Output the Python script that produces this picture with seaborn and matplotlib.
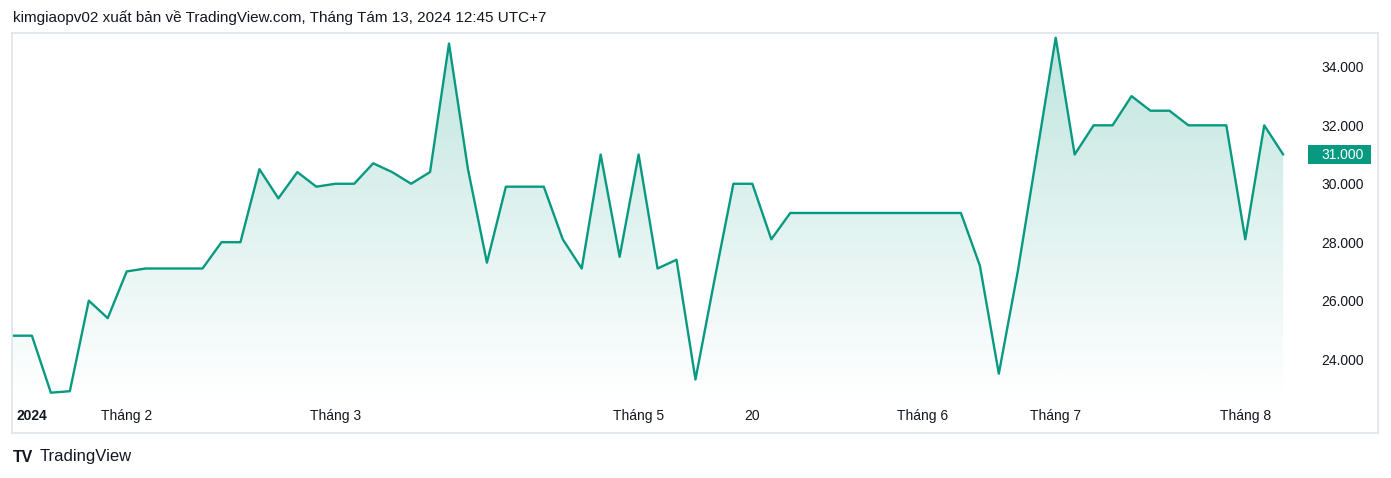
import matplotlib
matplotlib.use("Agg")
import matplotlib.pyplot as plt
import matplotlib.colors as mcolors
from matplotlib.patches import Rectangle
import seaborn as sns
import numpy as np
import pandas as pd

# closing prices, one per trading session
prices = [24800, 24800, 22850, 22900, 26000, 25400, 27000, 27100, 27100, 27100,
          27100, 28000, 28000, 30500, 29500, 30400, 29900, 30000, 30000, 30700,
          30400, 30000, 30400, 34800, 30500, 27300, 29900, 29900, 29900, 28100,
          27100, 31000, 27500, 31000, 27100, 27400, 23300, 26700, 30000, 30000,
          28100, 29000, 29000, 29000, 29000, 29000, 29000, 29000, 29000, 29000,
          29000, 27200, 23500, 27000, 31000, 35000, 31000, 32000, 32000, 33000,
          32500, 32500, 32000, 32000, 32000, 28100, 32000, 31000]
tick_idx = [1, 6, 17, 33, 39, 48, 55, 65]
tick_labels = ["2024", "Tháng 2", "Tháng 3", "Tháng 5", "20", "Tháng 6", "Tháng 7", "Tháng 8"]
price_ticks = [24000, 26000, 28000, 30000, 32000, 34000]

df = pd.DataFrame({"session": np.arange(len(prices)), "price": prices})

GREEN = "#089981"
TEXT = "#131722"
BORDER = "#e0e3eb"

sns.set_theme(style="white")
plt.rcParams["font.family"] = ["Liberation Sans", "DejaVu Sans"]

W, H = 1391, 478
fig = plt.figure(figsize=(W / 100, H / 100), dpi=100)
ax = fig.add_axes([12 / W, (H - 433) / H, (1378 - 12) / W, (433 - 33) / H])

sns.lineplot(data=df, x="session", y="price", color=GREEN, linewidth=1.7, ax=ax)

xmin, xmax = -0.05, 72.0
ymin, ymax = 21470, 35160

# gradient area under the line
base = 22600
poly = ax.fill_between(df["session"], df["price"], base, color="none", lw=0)
grad = np.zeros((256, 1, 4))
grad[..., :3] = mcolors.to_rgb(GREEN)
grad[:, 0, 3] = np.linspace(0.26, 0.0, 256)
img = ax.imshow(grad, aspect="auto", extent=[xmin, xmax, base, 35200],
                origin="upper", zorder=1, interpolation="bicubic")
img.set_clip_path(poly.get_paths()[0], transform=ax.transData)
ax.set_xlim(xmin, xmax)
ax.set_ylim(ymin, ymax)

# axis labels sit inside the frame
ax.set_xlabel("")
ax.set_ylabel("")
ax.set_xticks(tick_idx)
ax.set_xticklabels(tick_labels)
ax.yaxis.tick_right()
ax.set_yticks(price_ticks)
ax.set_yticklabels([f"{v:,.0f}".replace(",", ".") for v in price_ticks])
ax.tick_params(axis="y", length=0, pad=-10, labelsize=10, labelcolor=TEXT)
ax.tick_params(axis="x", length=0, pad=-12.5, labelsize=10, labelcolor=TEXT)
for lbl in ax.get_yticklabels():
    lbl.set_horizontalalignment("right")
for lbl in ax.get_xticklabels():
    lbl.set_verticalalignment("center")
ax.get_xticklabels()[0].set_fontweight("bold")

for s in ax.spines.values():
    s.set_color(BORDER)
    s.set_linewidth(1.2)

# last price tag
last = prices[-1]
ytr = ax.get_yaxis_transform()
x0, x1 = (1308 - 12) / 1366, (1371 - 12) / 1366
ax.add_patch(Rectangle((x0, last - 340), x1 - x0, 680, transform=ytr,
                       fc=GREEN, ec="none", zorder=4, clip_on=False))
ax.text(1 - 14 / 1366, last, f"{last:,.0f}".replace(",", "."), transform=ytr,
        ha="right", va="center", fontsize=10, color="white", zorder=5)

fig.text(13 / W, 1 - 18 / H, "kimgiaopv02 xuất bản về TradingView.com, Tháng Tám 13, 2024 12:45 UTC+7",
         ha="left", va="center", fontsize=11, color=TEXT)
fig.text(13 / W, 1 - 457 / H, "TV", ha="left", va="center", fontsize=11.5, fontweight="bold", color=TEXT)
fig.text(40 / W, 1 - 457 / H, "TradingView", ha="left", va="center", fontsize=12, color=TEXT)

fig.savefig("out.png", dpi=100)
